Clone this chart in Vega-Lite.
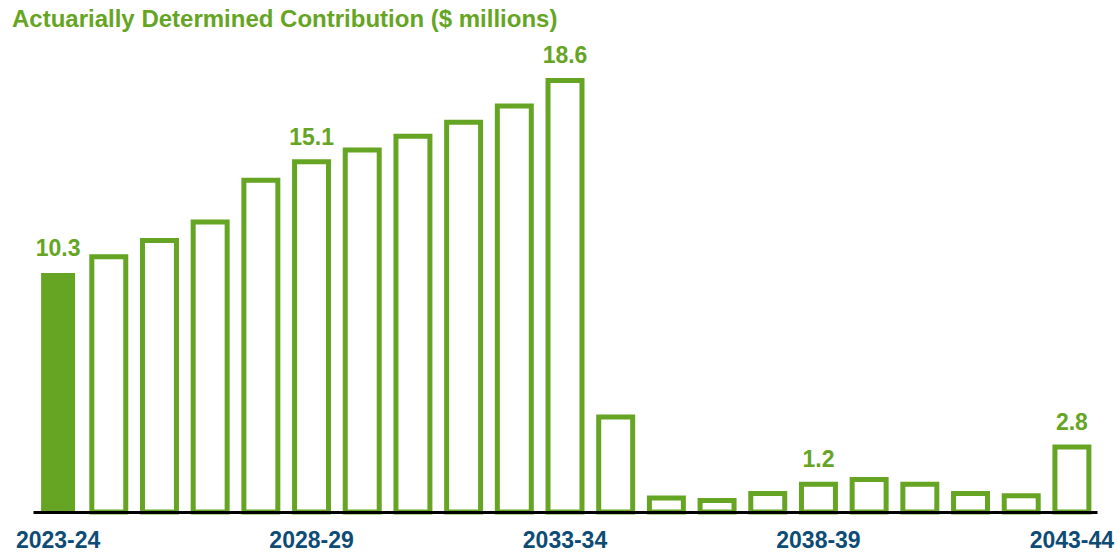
{
  "$schema": "https://vega.github.io/schema/vega-lite/v6.json",
  "width": 1064,
  "height": 464,
  "autosize": {"type": "none"},
  "padding": {"left": 33, "top": 48, "right": 22, "bottom": 42},
  "background": "white",
  "title": {
    "text": "Actuarially Determined Contribution ($ millions)",
    "anchor": "start",
    "frame": "group",
    "dx": -21,
    "offset": 13,
    "font": "Liberation Sans",
    "fontSize": 24,
    "fontWeight": "bold",
    "color": "#65A523"
  },
  "data": {
    "values": [
      {"year": "2023-24", "value": 10.3, "type": "actual"},
      {"year": "2024-25", "value": 11.0, "type": "projected"},
      {"year": "2025-26", "value": 11.7, "type": "projected"},
      {"year": "2026-27", "value": 12.5, "type": "projected"},
      {"year": "2027-28", "value": 14.3, "type": "projected"},
      {"year": "2028-29", "value": 15.1, "type": "projected"},
      {"year": "2029-30", "value": 15.6, "type": "projected"},
      {"year": "2030-31", "value": 16.2, "type": "projected"},
      {"year": "2031-32", "value": 16.8, "type": "projected"},
      {"year": "2032-33", "value": 17.5, "type": "projected"},
      {"year": "2033-34", "value": 18.6, "type": "projected"},
      {"year": "2034-35", "value": 4.1, "type": "projected"},
      {"year": "2035-36", "value": 0.6, "type": "projected"},
      {"year": "2036-37", "value": 0.5, "type": "projected"},
      {"year": "2037-38", "value": 0.8, "type": "projected"},
      {"year": "2038-39", "value": 1.2, "type": "projected"},
      {"year": "2039-40", "value": 1.4, "type": "projected"},
      {"year": "2040-41", "value": 1.2, "type": "projected"},
      {"year": "2041-42", "value": 0.8, "type": "projected"},
      {"year": "2042-43", "value": 0.7, "type": "projected"},
      {"year": "2043-44", "value": 2.8, "type": "projected"}
    ]
  },
  "encoding": {
    "x": {
      "field": "year",
      "type": "nominal",
      "sort": null,
      "scale": {"paddingInner": 0.33, "paddingOuter": 0.16},
      "axis": {
        "title": null,
        "values": ["2023-24", "2028-29", "2033-34", "2038-39", "2043-44"],
        "labelAngle": 0,
        "labelFont": "Liberation Sans",
        "labelFontSize": 23,
        "labelFontWeight": "bold",
        "labelColor": "#0E4C76",
        "labelPadding": 17,
        "ticks": false,
        "domainColor": "#000000",
        "domainWidth": 3,
        "grid": false,
        "zindex": 1
      }
    },
    "y": {
      "field": "value",
      "type": "quantitative",
      "scale": {"domain": [0, 20], "nice": false},
      "axis": null
    }
  },
  "layer": [
    {
      "mark": {"type": "bar", "stroke": "#65A523"},
      "encoding": {
        "fill": {
          "field": "type",
          "type": "nominal",
          "scale": {"domain": ["actual", "projected"], "range": ["#65A523", "#FFFFFF"]},
          "legend": null
        },
        "strokeWidth": {
          "condition": {"test": "datum.type === 'actual'", "value": 0},
          "value": 5
        }
      }
    },
    {
      "transform": [
        {"filter": {"field": "year", "oneOf": ["2023-24", "2028-29", "2033-34", "2038-39", "2043-44"]}}
      ],
      "mark": {
        "type": "text",
        "baseline": "alphabetic",
        "dy": -17,
        "font": "Liberation Sans",
        "fontSize": 23,
        "fontWeight": "bold",
        "color": "#65A523"
      },
      "encoding": {
        "text": {"field": "value", "type": "quantitative", "format": ".1f"}
      }
    }
  ],
  "config": {"view": {"stroke": null}}
}
